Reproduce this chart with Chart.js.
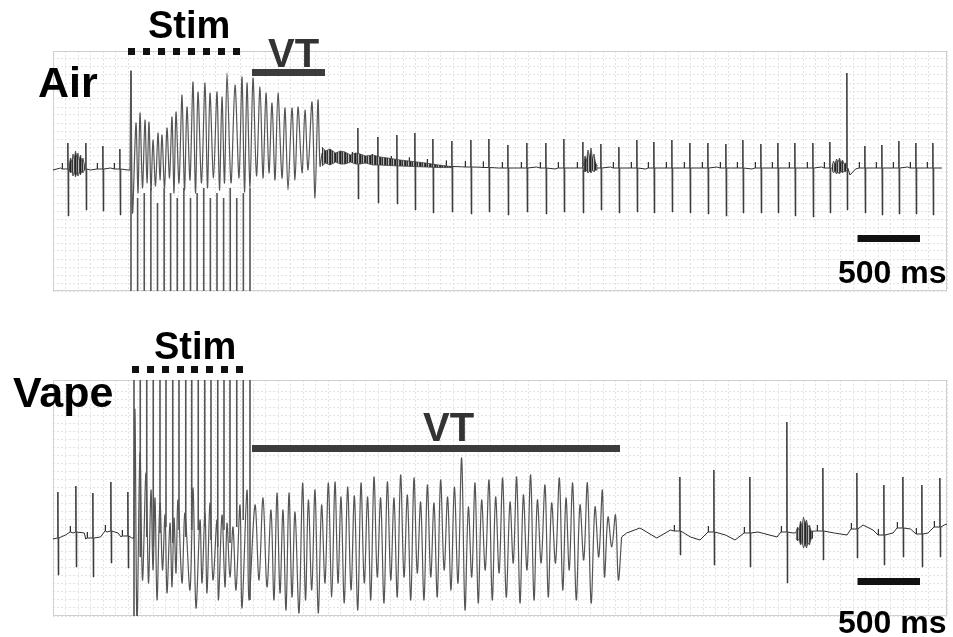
<!DOCTYPE html>
<html>
<head>
<meta charset="utf-8">
<script src="https://cdn.jsdelivr.net/npm/chart.js@4.4.0/dist/chart.umd.min.js"></script>
<style>
  body { margin: 0; background: #fff; width: 953px; height: 637px; position: relative; overflow: hidden; }
  canvas { position: absolute; left: 0; }
  #c1 { top: 0; }
  #c2 { top: 320px; }
  .lbl { position: absolute; font-family: "Liberation Sans", Arial, sans-serif; font-weight: bold; line-height: 1; color: #000; white-space: nowrap; z-index: 2; }
  .vt { color: #333; }
</style>
</head>
<body>
<canvas id="c1" width="953" height="300"></canvas>
<canvas id="c2" width="953" height="317"></canvas>

<div class="lbl" style="left:38px; top:61px; font-size:43px;">Air</div>
<div class="lbl" style="left:148px; top:6px; font-size:38px;">Stim</div>
<div class="lbl vt" style="left:268px; top:33px; font-size:40px;">VT</div>
<div class="lbl" style="left:838px; top:256px; font-size:32px;">500 ms</div>

<div class="lbl" style="left:13px; top:371px; font-size:43px;">Vape</div>
<div class="lbl" style="left:154px; top:327px; font-size:38px;">Stim</div>
<div class="lbl vt" style="left:423px; top:407px; font-size:40px;">VT</div>
<div class="lbl" style="left:838px; top:606px; font-size:32px;">500 ms</div>

<script>
// time in ms, amplitude in arbitrary units (baseline = 0)

// ---- Air ----
const airBeatT = [120, 264, 400, 536, 2440, 2600, 2752, 2896, 3040, 3192, 3344, 3488, 3640, 3792, 3944, 4088, 4240, 4384, 4528, 4672, 4808, 4952, 5096, 5240, 5384, 5520, 5664, 5800, 5936, 6080, 6216, 6352, 6496, 6632, 6768, 6904, 7040];
const airBeatUp = [0.25, 0.25, 0.22, 0.19, 0.40, 0.31, 0.33, 0.35, 0.29, 0.27, 0.28, 0.29, 0.23, 0.25, 0.25, 0.29, 0.26, 0.24, 0.21, 0.28, 0.26, 0.28, 0.25, 0.25, 0.24, 0.28, 0.24, 0.25, 0.25, 0.25, 0.26, 0.95, 0.22, 0.23, 0.27, 0.25, 0.25];
const airBeatDn = [-0.48, -0.42, -0.43, -0.47, -0.31, -0.35, -0.36, -0.42, -0.45, -0.44, -0.46, -0.44, -0.47, -0.44, -0.46, -0.44, -0.45, -0.42, -0.45, -0.44, -0.45, -0.44, -0.45, -0.46, -0.48, -0.45, -0.45, -0.45, -0.48, -0.49, -0.45, -0.42, -0.45, -0.47, -0.46, -0.46, -0.47];
const airBeatBase = [-0.01, -0.01, -0.01, -0.01, 0.10, 0.08, 0.06, 0.045, 0.03, 0.015, 0.01, 0.005, 0, 0, 0, 0, 0, 0, 0, 0, 0, 0, 0, 0, 0, 0, 0, 0, 0, 0, 0, 0, 0, 0, 0, 0, 0];

const airBaseT = [0, 60, 100, 300, 460, 600, 2200, 2350, 2515, 2676, 2824, 2968, 3116, 3268, 3416, 3564, 3716, 3868, 4016, 4164, 4460, 4740, 5028, 5312, 5592, 5868, 6148, 6300, 6376, 6420, 6564, 6836, 6972, 7112];
const airBaseV = [-0.02, 0, -0.01, -0.02, 0, -0.02, 0.12, 0.10, 0.08, 0.065, 0.05, 0.035, 0.02, 0.012, 0.008, 0, 0, 0.01, -0.01, 0, 0.01, -0.01, 0, 0.01, -0.01, 0, 0.01, 0, -0.07, -0.01, 0, 0.01, 0, 0];

// stimulated response + VT: alternating peaks / troughs
const airOscT = [616, 624, 636, 664, 680, 696, 716, 736, 752, 768, 784, 800, 820, 840, 856, 872, 892, 912, 932, 952, 968, 984, 1008, 1032, 1052, 1072, 1096, 1120, 1140, 1160, 1188, 1216, 1236, 1256, 1284, 1312, 1332, 1352, 1372, 1392, 1424, 1456, 1488, 1512, 1532, 1552, 1576, 1600, 1628, 1656, 1680, 1704, 1728, 1752, 1776, 1800, 1832, 1856, 1880, 1912, 1936, 1960, 1992, 2016, 2040, 2072, 2096, 2120, 2136, 2152];
const airOscV = [-0.02, 0.97, -0.45, 0.45, -0.25, 0.55, -0.20, 0.48, -0.15, 0.46, -0.22, 0.28, -0.18, 0.35, -0.12, 0.33, -0.20, 0.40, -0.10, 0.51, -0.25, 0.56, -0.15, 0.73, -0.22, 0.61, -0.12, 0.86, -0.25, 0.76, -0.15, 0.85, -0.20, 0.75, -0.10, 0.76, -0.22, 0.71, -0.15, 0.95, -0.15, 0.83, -0.10, 0.91, -0.24, 0.85, -0.19, 0.90, -0.08, 0.81, -0.10, 0.75, -0.05, 0.65, -0.12, 0.75, -0.10, 0.60, -0.22, 0.60, -0.12, 0.61, -0.05, 0.58, -0.02, 0.66, -0.30, 0.68, 0.02, 0.15];

const airStimT = [624, 677, 730, 783, 836, 889, 941, 994, 1047, 1100, 1153, 1206, 1259, 1312, 1365, 1418, 1470, 1523, 1576];
const airStimFrom = [0.97, -0.30, -0.25, -0.20, -0.35, -0.20, -0.25, -0.30, -0.20, -0.30, -0.25, -0.20, -0.30, -0.25, -0.30, -0.20, -0.30, -0.25, -0.20];

// dense noise / ripple bands
const airBandT = [
  [128, 140, 150, 160, 170, 180, 190, 200, 210, 220, 230, 240, 250, 256],
  [2152, 2180, 2216, 2260, 2300, 2336, 2380, 2420, 2456, 2500, 2560, 2616, 2680, 2776, 2880, 2980, 3080, 3200],
  [4244, 4256, 4268, 4280, 4292, 4304, 4316, 4328, 4340, 4356],
  [6232, 6244, 6256, 6268, 6280, 6292, 6304, 6316, 6328, 6340, 6348]];
const airBandHi = [
  [0.02, 0.10, 0.06, 0.14, 0.09, 0.17, 0.11, 0.15, 0.08, 0.13, 0.07, 0.10, 0.04, 0.02],
  [0.21, 0.17, 0.19, 0.15, 0.17, 0.16, 0.13, 0.15, 0.14, 0.12, 0.13, 0.11, 0.10, 0.08, 0.065, 0.05, 0.03, 0.012],
  [0.02, 0.12, 0.07, 0.18, 0.10, 0.20, 0.09, 0.14, 0.05, 0.02],
  [0.02, 0.07, 0.04, 0.09, 0.06, 0.10, 0.05, 0.08, 0.04, 0.05, 0.02]];
const airBandLo = [
  [-0.02, -0.05, -0.03, -0.08, -0.04, -0.09, -0.05, -0.08, -0.04, -0.07, -0.03, -0.05, -0.02, -0.02],
  [0.02, 0.05, 0.03, 0.06, 0.04, 0.04, 0.06, 0.04, 0.04, 0.05, 0.03, 0.03, 0.025, 0.02, 0.015, 0.01, 0.005, 0.004],
  [-0.02, -0.04, -0.02, -0.05, -0.03, -0.05, -0.02, -0.04, -0.02, -0.02],
  [-0.02, -0.05, -0.03, -0.06, -0.04, -0.06, -0.03, -0.05, -0.03, -0.04, -0.02]];

const airStimSpan = [600, 1496];
const airVTSpan = [1592, 2176];

// ---- Vape ----
const vapeBeatT = [40, 184, 320, 464, 600, 5016, 5288, 5576, 5872, 6160, 6432, 6648, 6800, 6952, 7096];
const vapeBeatUp = [0.43, 0.49, 0.42, 0.53, 0.43, 0.58, 0.65, 0.58, 1.13, 0.67, 0.62, 0.50, 0.58, 0.50, 0.57];
const vapeBeatDn = [-0.40, -0.32, -0.42, -0.28, -0.33, -0.20, -0.30, -0.32, -0.48, -0.25, -0.23, -0.30, -0.22, -0.32, -0.22];
const vapeBeatBase = [-0.03, 0.03, -0.03, 0.04, -0.01, 0.04, 0.03, 0.02, 0.03, 0.04, 0.06, 0, 0.07, 0.01, 0.08];

const vapeBaseT = [0, 100, 160, 250, 262, 380, 432, 520, 545, 630, 4589, 4696, 4830, 4940, 5100, 5176, 5380, 5456, 5640, 5792, 5920, 6100, 6250, 6352, 6480, 6560, 6720, 6860, 7000, 7130, 7152];
const vapeBaseV = [-0.04, 0, 0.02, 0.02, -0.04, -0.02, 0.03, 0.02, -0.02, -0.03, 0.02, 0.07, -0.03, 0.05, -0.02, -0.05, 0, -0.05, 0.03, -0.02, 0.02, 0.04, 0.02, 0, 0.10, 0.05, 0.02, 0.06, 0.02, 0.10, 0.11];

const vapeOscT = [648, 656, 672, 696, 716, 744, 764, 784, 800, 816, 832, 856, 876, 896, 912, 936, 952, 968, 984, 1000, 1032, 1056, 1096, 1120, 1144, 1176, 1192, 1216, 1232, 1256, 1280, 1312, 1324, 1352, 1376, 1392, 1416, 1440, 1464, 1496, 1512, 1552, 1568,
  1616, 1648, 1680, 1712, 1744, 1768, 1792, 1816, 1840, 1864, 1888, 1912, 1936, 1968,
  1997, 2020, 2043, 2070, 2096, 2122, 2149, 2176, 2203, 2230, 2256, 2280, 2304, 2330, 2357, 2384, 2411, 2438, 2464, 2490, 2517, 2542, 2568, 2594, 2621, 2648, 2675, 2702, 2728, 2754, 2781, 2808, 2835, 2862, 2888, 2914, 2941, 2968, 2995, 3022, 3048, 3074, 3101, 3129, 3157, 3184, 3211, 3240, 3269, 3296, 3323, 3350, 3376, 3402, 3429, 3458, 3488, 3514, 3541, 3569, 3597, 3626, 3656, 3682, 3709, 3736, 3763, 3792, 3821, 3848, 3875, 3905, 3936, 3962, 3989, 4020, 4051, 4078, 4104, 4130, 4157, 4186, 4216, 4246, 4275, 4305, 4336, 4366, 4395,
  4412, 4440, 4470, 4500, 4523, 4549];
const vapeOscV = [-0.03, 1.25, -0.90, 0.82, -0.45, 0.62, -0.48, 0.45, -0.35, 0.37, -0.65, 0.32, -0.35, 0.20, -0.58, 0.12, -0.52, 0.17, -0.38, 0.35, -0.48, 0.22, -0.55, 0.47, -0.73, 0.15, -0.48, 0.22, -0.58, 0.32, -0.45, 0.15, -0.65, 0.20, -0.52, 0.12, -0.42, 0.08, -0.55, 0.30, -0.73, 0.45, -0.65,
  0.30, -0.45, 0.37, -0.52, 0.25, -0.65, 0.42, -0.58, 0.25, -0.75, 0.42, -0.62, 0.23, -0.78,
  0.52, -0.65, 0.35, -0.55, 0.45, -0.78, 0.30, -0.48, 0.52, -0.62, 0.53, -0.48, 0.38, -0.68, 0.48, -0.55, 0.39, -0.75, 0.52, -0.48, 0.38, -0.65, 0.58, -0.42, 0.37, -0.68, 0.53, -0.45, 0.37, -0.62, 0.60, -0.42, 0.40, -0.65, 0.57, -0.38, 0.33, -0.65, 0.50, -0.42, 0.32, -0.62, 0.55, -0.35, 0.38, -0.55, 0.48, -0.48, 0.77, -0.75, 0.28, -0.42, 0.52, -0.68, 0.35, -0.35, 0.55, -0.65, 0.38, -0.38, 0.57, -0.62, 0.33, -0.28, 0.58, -0.68, 0.40, -0.35, 0.60, -0.65, 0.35, -0.28, 0.50, -0.62, 0.32, -0.28, 0.57, -0.55, 0.37, -0.35, 0.52, -0.65, 0.30, -0.25, 0.52, -0.68, 0.28, -0.22, 0.45,
  -0.42, 0.18, -0.12, 0.20, -0.45, -0.02];

const vapeStimT = [648, 698, 750, 802, 856, 904, 958, 1008, 1062, 1110, 1162, 1214, 1264, 1318, 1368, 1416, 1470, 1522, 1576];
const vapeStimTo = [-0.90, -0.22, -0.02, -0.12, 0.02, 0.08, -0.08, 0.05, -0.02, 0.05, 0.05, 0.08, -0.05, -0.12, 0.05, -0.08, 0.08, 0.15, -0.65];

const vapeBandT = [[5944, 5956, 5968, 5980, 5992, 6004, 6016, 6028, 6040, 6052, 6064, 6080]];
const vapeBandHi = [[0.03, 0.08, 0.05, 0.14, 0.09, 0.18, 0.12, 0.15, 0.08, 0.10, 0.04, 0.03]];
const vapeBandLo = [[-0.03, -0.06, -0.04, -0.10, -0.07, -0.13, -0.09, -0.13, -0.08, -0.10, -0.04, -0.03]];

const vapeStimSpan = [632, 1520];
const vapeVTSpan = [1592, 4536];

const scaleBarSpan = [6436, 6936]; // 500 ms

const TRACE = '#2e2e2e';
const OSC = '#555';

// vertical-stripe texture so the dense ripple looks like a scribble, not a solid blob
function ripplePattern() {
  const c = document.createElement('canvas');
  c.width = 5; c.height = 3;
  const g = c.getContext('2d');
  g.fillStyle = '#222'; g.fillRect(0, 0, 1, 3);
  g.fillStyle = '#777'; g.fillRect(1, 0, 1, 3);
  g.fillStyle = '#333'; g.fillRect(2, 0, 1, 3);
  g.fillStyle = '#bbb'; g.fillRect(3, 0, 1, 3);
  g.fillStyle = '#444'; g.fillRect(4, 0, 1, 3);
  return g.createPattern(c, 'repeat');
}
const BAND = ripplePattern();

// baseline + sinus beats; the oscillation goes in its own (smoothed) dataset
function tracePts(baseT, baseV, beatT, up, dn, base, oscT, oscV) {
  const pts = baseT.map((t, i) => ({ x: t, y: baseV[i] }));
  beatT.forEach((t, i) => {
    const b = base[i];
    pts.push({ x: t - 48, y: b }, { x: t - 46, y: b + 0.06 }, { x: t - 44, y: b },
      { x: t - 4, y: b }, { x: t - 1, y: up[i] }, { x: t + 2, y: dn[i] }, { x: t + 6, y: b });
  });
  const n = oscT.length - 1;
  pts.push({ x: oscT[0], y: oscV[0] }, { x: (oscT[0] + oscT[n]) / 2, y: null }, { x: oscT[n], y: oscV[n] });
  return pts.sort((a, b) => a.x - b.x);
}

function oscPts(T, V) {
  return T.map((t, i) => ({ x: t, y: V[i] }));
}

function stimPts(T, from, to) {
  const pts = [];
  T.forEach((t, i) => {
    const a = Array.isArray(from) ? from[i] : from;
    const b = Array.isArray(to) ? to[i] : to;
    pts.push({ x: t, y: a }, { x: t, y: b }, { x: t, y: null });
  });
  return pts;
}

function bandSets(T, hi, lo) {
  const sets = [];
  T.forEach((ts, k) => {
    sets.push({ data: ts.map((t, i) => ({ x: t, y: hi[k][i] })), borderColor: '#444', borderWidth: 0.8, fill: false });
    sets.push({ data: ts.map((t, i) => ({ x: t, y: lo[k][i] })), borderColor: '#444', borderWidth: 0.8, backgroundColor: BAND, fill: '-1' });
  });
  return sets;
}

// frame, stim dots, VT bar, 500 ms bar
const marks = {
  id: 'marks',
  beforeDatasetsDraw(chart) {
    const { ctx, chartArea: a } = chart;
    ctx.save();
    ctx.strokeStyle = '#cfcfcf';
    ctx.lineWidth = 1;
    ctx.strokeRect(a.left + 0.5, a.top + 0.5, a.right - a.left - 1, a.bottom - a.top - 1);
    ctx.restore();
  },
  afterDraw(chart, args, o) {
    const { ctx, scales: { x } } = chart;
    ctx.save();
    const s0 = x.getPixelForValue(o.stim[0]);
    const s1 = x.getPixelForValue(o.stim[1]);
    const gap = (s1 - s0 - 7) / 7;
    ctx.fillStyle = '#111';
    for (let i = 0; i < 8; i++) ctx.fillRect(Math.round(s0 + i * gap), o.stimY, 7, 7);

    ctx.fillStyle = '#3c3c3c';
    const v0 = x.getPixelForValue(o.vt[0]);
    ctx.fillRect(v0, o.vtY, x.getPixelForValue(o.vt[1]) - v0, 7);

    ctx.fillStyle = '#111';
    const b0 = x.getPixelForValue(scaleBarSpan[0]);
    ctx.fillRect(b0, o.barY, x.getPixelForValue(scaleBarSpan[1]) - b0, 7);
    ctx.restore();
  }
};

function makeChart(id, datasets, yMin, yMax, pad, mk) {
  return new Chart(document.getElementById(id), {
    type: 'line',
    data: { datasets: datasets },
    options: {
      responsive: false,
      animation: false,
      devicePixelRatio: 1,
      layout: { padding: pad },
      elements: { point: { radius: 0 }, line: { tension: 0 } },
      plugins: { legend: { display: false }, tooltip: { enabled: false }, marks: mk },
      scales: {
        x: {
          type: 'linear', min: 0, max: 7152,
          ticks: { display: false, stepSize: 100 },
          grid: { color: '#e4e4e4', drawTicks: false },
          border: { display: false, dash: [2, 2] }
        },
        y: {
          min: yMin, max: yMax,
          ticks: { display: false, stepSize: 0.08 },
          grid: { color: '#e4e4e4', drawTicks: false },
          border: { display: false, dash: [2, 2] }
        }
      }
    },
    plugins: [marks]
  });
}

const airSets = bandSets(airBandT, airBandHi, airBandLo).concat([
  { data: tracePts(airBaseT, airBaseV, airBeatT, airBeatUp, airBeatDn, airBeatBase, airOscT, airOscV), borderColor: TRACE, borderWidth: 1, fill: false },
  { data: oscPts(airOscT, airOscV), borderColor: OSC, borderWidth: 1.2, tension: 0.3, fill: false },
  { data: stimPts(airStimT, airStimFrom, -1.5), borderColor: '#555', borderWidth: 1.6, fill: false }
]);
makeChart('c1', airSets, -1.23, 1.17, { left: 53, right: 6, top: 51, bottom: 9 },
  { stim: airStimSpan, stimY: 48, vt: airVTSpan, vtY: 69, barY: 235 });

const vapeSets = bandSets(vapeBandT, vapeBandHi, vapeBandLo).concat([
  { data: tracePts(vapeBaseT, vapeBaseV, vapeBeatT, vapeBeatUp, vapeBeatDn, vapeBeatBase, vapeOscT, vapeOscV), borderColor: TRACE, borderWidth: 1, fill: false },
  { data: oscPts(vapeOscT, vapeOscV), borderColor: OSC, borderWidth: 1.2, tension: 0.35, fill: false },
  { data: stimPts(vapeStimT, 1.8, vapeStimTo), borderColor: '#555', borderWidth: 1.6, fill: false }
]);
makeChart('c2', vapeSets, -0.81, 1.55, { left: 53, right: 6, top: 60, bottom: 21 },
  { stim: vapeStimSpan, stimY: 46, vt: vapeVTSpan, vtY: 125, barY: 258 });
</script>
</body>
</html>
